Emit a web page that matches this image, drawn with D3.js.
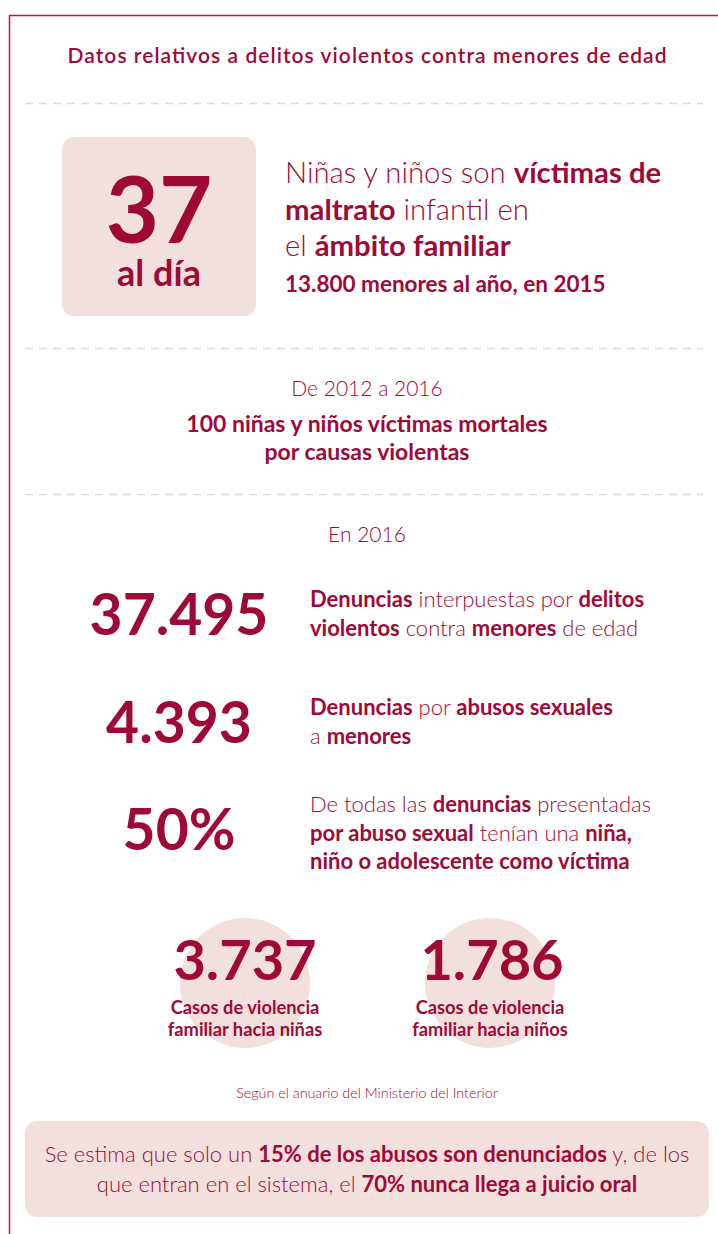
<!DOCTYPE html>
<html>
<head>
<meta charset="utf-8">
<script src="https://cdn.jsdelivr.net/npm/d3@7"></script>
<style>
  body { margin: 0; background: #fff; }
  svg text { font-family: Lato, "Open Sans", sans-serif; fill: #9e0a35; }
</style>
</head>
<body>
<script>
// page size
var width = 718, height = 1234;
var red = "#9e0a35", frame = "#c8103e", pink = "#f2e0df", dash = "#dcdcdc";

// data
var title = "Datos relativos a delitos violentos contra menores de edad";
var dailyValue = 37;
var dailyUnit = "al día";
var dailyText = [
  [["Niñas y niños son ", 0], ["víctimas de", 1]],
  [["maltrato", 1], [" infantil en", 0]],
  [["el ", 0], ["ámbito familiar", 1]]
];
var yearlyNote = "13.800 menores al año, en 2015";
var periodLabel = "De 2012 a 2016";
var periodText = ["100 niñas y niños víctimas mortales", "por causas violentas"];
var yearLabel = "En 2016";
var statValues = ["37.495", "4.393", "50%"];
var statTexts = [
  [[["Denuncias", 1], [" interpuestas por ", 0], ["delitos", 1]],
   [["violentos", 1], [" contra ", 0], ["menores", 1], [" de edad", 0]]],
  [[["Denuncias", 1], [" por ", 0], ["abusos sexuales", 1]],
   [["a ", 0], ["menores", 1]]],
  [[["De todas las ", 0], ["denuncias", 1], [" presentadas", 0]],
   [["por abuso sexual", 1], [" tenían una ", 0], ["niña,", 1]],
   [["niño o adolescente como víctima", 1]]]
];
var familyValues = ["3.737", "1.786"];
var familyLabels = [["Casos de violencia", "familiar hacia niñas"], ["Casos de violencia", "familiar hacia niños"]];
var source = "Según el anuario del Ministerio del Interior";
var footer = [
  [["Se estima que solo un ", 0], ["15% de los abusos son denunciados", 1], [" y, de los", 0]],
  [["que entran en el sistema, el ", 0], ["70% nunca llega a juicio oral", 1]]
];

var svg = d3.select("body").append("svg")
  .attr("width", width)
  .attr("height", height);

// frame: top and left line
svg.append("path")
  .attr("d", "M9.5," + height + "V15.5H" + width)
  .attr("fill", "none")
  .attr("stroke", frame)
  .attr("stroke-width", 1.5);

// helper for lines of mixed weight text
function richLine(g, segs, x, y, size, anchor) {
  var t = g.append("text")
    .attr("x", x).attr("y", y)
    .attr("font-size", size)
    .attr("text-anchor", anchor || "start");
  t.selectAll("tspan").data(segs).enter().append("tspan")
    .attr("font-weight", function(d){ return d[1] ? 700 : 300; })
    .text(function(d){ return d[0]; });
  return t;
}

function dashed(y) {
  svg.append("line")
    .attr("x1", 25).attr("x2", 703)
    .attr("y1", y).attr("y2", y)
    .attr("stroke", dash)
    .attr("stroke-width", 1.5)
    .attr("stroke-dasharray", "8,6");
}

var cx = 367;

// title
svg.append("text")
  .attr("x", cx).attr("y", 63)
  .attr("text-anchor", "middle")
  .attr("font-size", 21).attr("font-weight", 600)
  .attr("textLength", 599).attr("lengthAdjust", "spacing")
  .text(title);

dashed(103.5);

// 37 al dia box
svg.append("rect")
  .attr("x", 62).attr("y", 137).attr("width", 194).attr("height", 179)
  .attr("rx", 12).attr("fill", pink);

svg.append("text")
  .attr("x", 159).attr("y", 243)
  .attr("text-anchor", "middle")
  .attr("font-size", 92).attr("font-weight", 700)
  .text(dailyValue);

svg.append("text")
  .attr("x", 159).attr("y", 286)
  .attr("text-anchor", "middle")
  .attr("font-size", 36).attr("font-weight", 700)
  .text(dailyUnit);

var dy = d3.scaleLinear().domain([0, 1]).range([183, 219.5]);
dailyText.forEach(function(segs, i){
  richLine(svg, segs, 285, dy(i), 29.3);
});
svg.append("text")
  .attr("x", 285).attr("y", 292)
  .attr("font-size", 22.5).attr("font-weight", 700)
  .text(yearlyNote);

dashed(348.5);

// period
svg.append("text")
  .attr("x", cx).attr("y", 396)
  .attr("text-anchor", "middle")
  .attr("font-size", 21).attr("font-weight", 300)
  .text(periodLabel);
periodText.forEach(function(s, i){
  svg.append("text")
    .attr("x", cx).attr("y", 432 + i * 28)
    .attr("text-anchor", "middle")
    .attr("font-size", 23).attr("font-weight", 700)
    .text(s);
});

dashed(494.5);

svg.append("text")
  .attr("x", cx).attr("y", 542)
  .attr("text-anchor", "middle")
  .attr("font-size", 21).attr("font-weight", 300)
  .text(yearLabel);

// stats rows
var rowY = d3.scalePoint().domain(d3.range(statValues.length)).range([635, 850]);
var statTop = [607, 715, 812];
statValues.forEach(function(v, i){
  svg.append("text")
    .attr("x", 179).attr("y", rowY(i))
    .attr("text-anchor", "middle")
    .attr("font-size", 57).attr("font-weight", 700)
    .text(v);
  statTexts[i].forEach(function(segs, j){
    richLine(svg, segs, 310, statTop[i] + j * 28.5, 22);
  });
});

// family violence circles
var circX = d3.scalePoint().domain(d3.range(familyValues.length)).range([245, 490]);
familyValues.forEach(function(v, i){
  var g = svg.append("g");
  g.append("circle")
    .attr("cx", circX(i)).attr("cy", 983).attr("r", 65)
    .attr("fill", pink);
  g.append("text")
    .attr("x", circX(i) + (i ? 2 : 0)).attr("y", 980)
    .attr("text-anchor", "middle")
    .attr("font-size", 56).attr("font-weight", 700)
    .text(v);
  familyLabels[i].forEach(function(s, j){
    g.append("text")
      .attr("x", circX(i)).attr("y", 1014 + j * 22)
      .attr("text-anchor", "middle")
      .attr("font-size", 18.3).attr("font-weight", 700)
      .text(s);
  });
});

// source
svg.append("text")
  .attr("x", cx).attr("y", 1098)
  .attr("text-anchor", "middle")
  .attr("font-size", 14.3).attr("font-weight", 300)
  .text(source);

// footer box
svg.append("rect")
  .attr("x", 25).attr("y", 1121).attr("width", 684).attr("height", 96)
  .attr("rx", 12).attr("fill", pink);
footer.forEach(function(segs, i){
  richLine(svg, segs, cx, 1162 + i * 30, 22, "middle");
});
</script>
</body>
</html>
